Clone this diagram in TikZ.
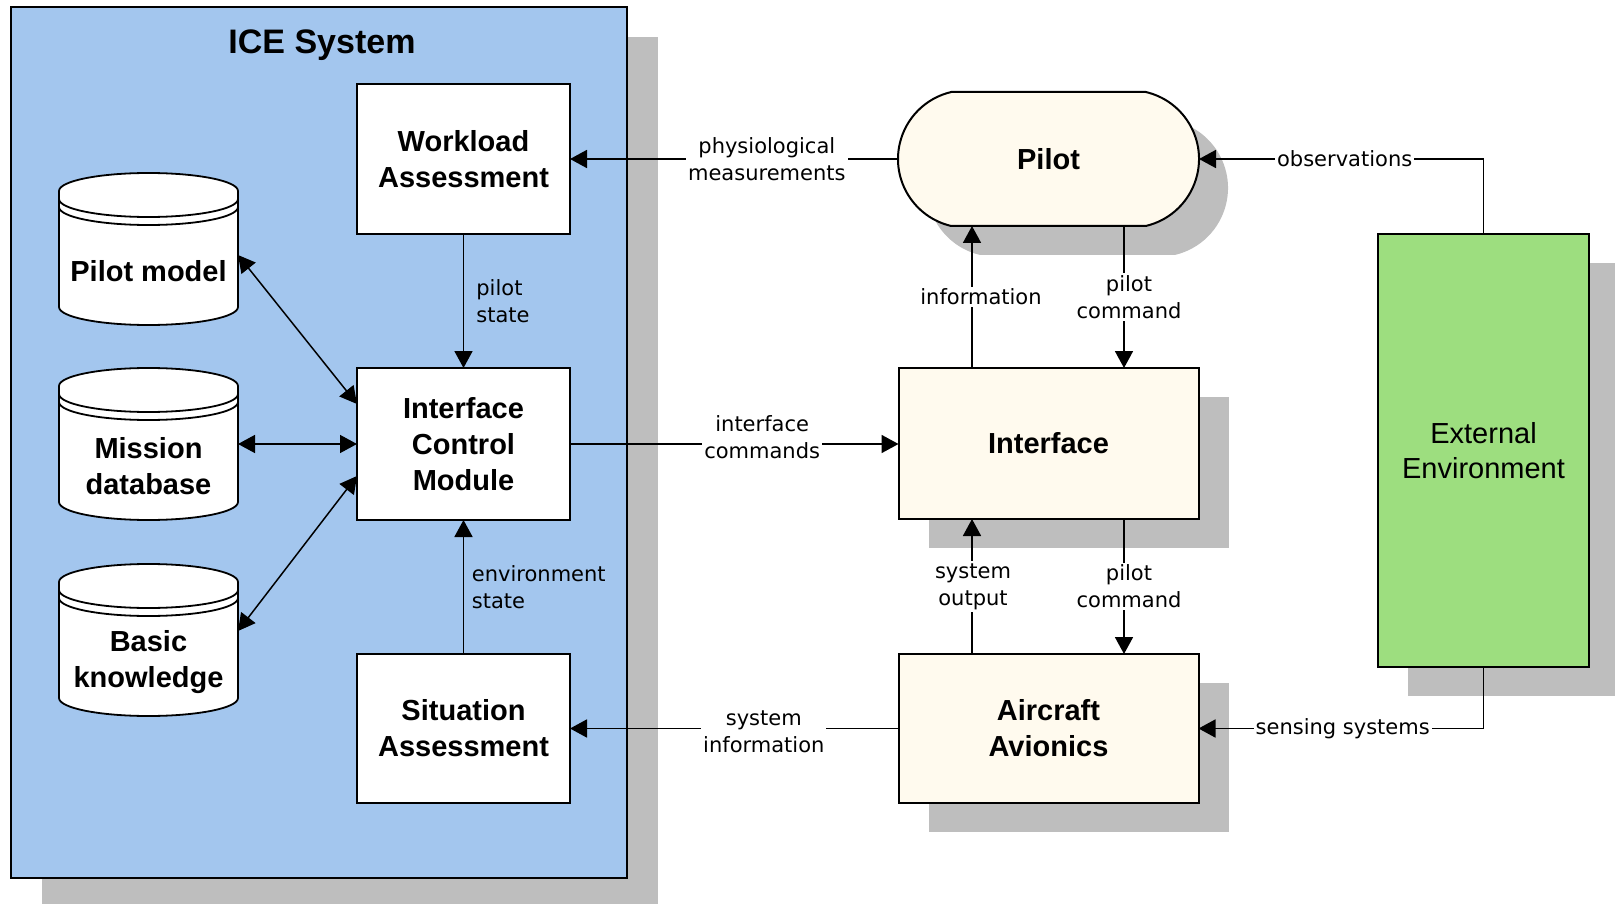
\documentclass[tikz,border=0pt]{standalone}
\usepackage{fontspec}
\setmainfont{Liberation Sans}
\newfontfamily\lblfont{DejaVu Sans}
\usetikzlibrary{arrows.meta,calc,shapes.misc}
\pgfdeclarelayer{shadow}
\pgfdeclarelayer{back}
\pgfdeclarelayer{mid}
\pgfsetlayers{shadow,back,mid,main}
\definecolor{iceblue}{HTML}{A3C6EE}
\definecolor{cream}{HTML}{FFFAEE}
\definecolor{envgreen}{HTML}{9DDE7F}
\definecolor{shadowc}{HTML}{BEBEBE}

\tikzset{
  boxtext/.style={font=\fontsize{29}{36}\selectfont\bfseries, align=center},
  block/.style={draw, line width=2pt, fill=white, minimum width=213pt,
    minimum height=150pt, inner sep=0pt, outer sep=0pt, boxtext},
  ext block/.style={block, fill=cream, minimum width=300pt},
  pilotshape/.style={rounded rectangle, rounded rectangle arc length=154,
    draw, line width=2pt, fill=cream, minimum width=301pt, minimum height=134pt,
    inner sep=0pt, outer sep=0pt, boxtext},
  dbnode/.style={minimum width=179pt, minimum height=107pt, inner sep=0pt,
    outer sep=0pt, boxtext},
  dbline/.style={line width=1.8pt},
  tip/.tip={Triangle[length=17pt,width=18pt]},
  arr/.style={line width=1.8pt, -tip},
  darr/.style={line width=1.5pt, tip-tip},
  lbl/.style={font=\lblfont\fontsize{21}{27}\selectfont, align=center,
    fill=white, inner sep=2pt},
  lblplain/.style={font=\lblfont\fontsize{21}{27}\selectfont, align=left,
    inner sep=0pt},
}

% database cylinder drawn around the body node #1
\newcommand\dbcyl[1]{%
  \begin{pgfonlayer}{mid}
    \draw[dbline, fill=white] ($(#1.north west)+(0,27)$) -- ($(#1.south west)+(0,18)$)
      arc[start angle=180, end angle=360, x radius=89.5, y radius=18]
      -- ($(#1.north east)+(0,27)$)
      arc[start angle=0, end angle=180, x radius=89.5, y radius=18] -- cycle;
    \foreach \d in {19,11}
      \draw[dbline] ($(#1.north west)+(0,\d)$)
        arc[start angle=180, end angle=360, x radius=89.5, y radius=18];
  \end{pgfonlayer}}

\begin{document}
\begin{tikzpicture}[x=1pt, y=1pt]
  \useasboundingbox (0,0) rectangle (1615,-904);

  % ICE system frame
  \begin{pgfonlayer}{back}
    \node[draw, line width=2pt, fill=iceblue, minimum width=616pt,
      minimum height=871pt, inner sep=0pt, outer sep=0pt] (ice) at (319,-442.5) {};
  \end{pgfonlayer}
  \node[font=\fontsize{34}{40}\selectfont\bfseries] (icetitle) at (322,-45) {ICE System};

  % ICE modules
  \node[block] (wa) at (463.5,-159) {Workload\\Assessment};
  \node[block, minimum height=152pt] (icm) at (463.5,-444) {Interface\\Control\\Module};
  \node[block, minimum height=149pt] (sa) at (463.5,-728.5) {Situation\\Assessment};

  % knowledge bases
  \node[dbnode] (pm) at (148.5,-271.5) {Pilot model};
  \node[dbnode] (md) at (148.5,-466.5) {Mission\\database};
  \node[dbnode] (bk) at (148.5,-662.5) {Basic\\knowledge};
  \dbcyl{pm}
  \dbcyl{md}
  \dbcyl{bk}

  % cockpit side
  \node[pilotshape] (pilot) at (1048.5,-159) {Pilot};
  \node[ext block, minimum height=151pt] (intf) at (1048.5,-443.5) {Interface};
  \node[ext block, minimum height=149pt] (av) at (1048.5,-728.5) {Aircraft\\Avionics};
  \node[block, fill=envgreen, minimum width=211pt, minimum height=433pt,
    font=\fontsize{29}{35}\selectfont] (ext) at (1483.5,-450.5) {External\\Environment};

  % drop shadows
  \begin{pgfonlayer}{shadow}
    \fill[shadowc] ([shift={(31,-30)}]ice.south west) rectangle ([shift={(31,-30)}]ice.north east);
    \foreach \n in {intf,av,ext}
      \fill[shadowc] ([shift={(30,-29)}]\n.south west) rectangle ([shift={(30,-29)}]\n.north east);
    \node[pilotshape, draw=none, fill=shadowc] (pilotshadow) at ([shift={(29,-29)}]pilot.center) {};
  \end{pgfonlayer}

  % flows inside the ICE system
  \draw[arr] (wa.south) -- node[lblplain, midway, anchor=west, xshift=12pt] (lps) {pilot\\state} (icm.north);
  \draw[arr] (sa.north) -- node[lblplain, midway, anchor=west, xshift=7.5pt] (les) {environment\\state} (icm.south);
  \draw[darr] ([yshift=16.5]pm.east) -- ([yshift=40]icm.west);
  \draw[darr] (md.east |- icm.west) -- (icm.west);
  \draw[darr] ([yshift=31.5]bk.east) -- ([yshift=-32]icm.west);

  % flows between ICE and the cockpit
  \draw[arr] (pilot.west) -- node[lbl, pos=0.4] (lphy) {physiological\\measurements} (wa.east);
  \draw[arr] (icm.east) -- node[lbl, pos=0.585, yshift=7pt] (lic) {interface\\commands} (icm.east -| intf.west);
  \draw[arr] (av.west) -- node[lbl, pos=0.41, yshift=-3pt] (lsi) {system\\information} (sa.east);

  % cockpit flows
  \coordinate (infoB) at ([xshift=-76.5]intf.north);
  \draw[arr] (infoB) -- node[lbl, midway, xshift=9pt] (linf) {information} (infoB |- pilot.south);
  \coordinate (pcT) at ([xshift=75.5]pilot.south);
  \draw[arr] (pcT) -- node[lbl, midway, xshift=5pt] (lpc1) {pilot\\command} (pcT |- intf.north);
  \coordinate (soB) at ([xshift=-76.5]av.north);
  \draw[arr] (soB) -- node[lbl, midway, xshift=1pt] (lso) {system\\output} (soB |- intf.south);
  \coordinate (pcB) at ([xshift=75.5]intf.south);
  \draw[arr] (pcB) -- node[lbl, midway, xshift=5pt] (lpc2) {pilot\\command} (pcB |- av.north);

  % environment feedback
  \draw[arr] (ext.north) |- node[lbl, pos=0.744] (lobs) {observations} (pilot.east);
  \draw[arr] (ext.south) |- node[lbl, pos=0.747] (lsen) {sensing systems} (av.east);
\end{tikzpicture}
\end{document}
